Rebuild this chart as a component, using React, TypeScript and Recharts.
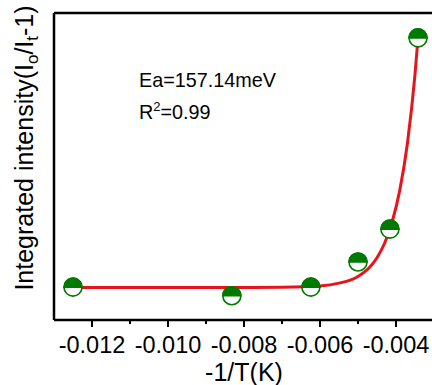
import { ComposedChart, Scatter, Line, XAxis, YAxis, ReferenceLine, Customized } from "recharts";

// measured points (-1/T, integrated intensity, arbitrary units)
const pointX = [-0.0125, -0.00832, -0.00624, -0.005, -0.00416, -0.00342];
const pointY = [10.7, 7.9, 10.7, 18.9, 29.6, 91.9];

// fitted curve
const fitX = [-0.0125, -0.01, -0.008, -0.007, -0.006, -0.0055, -0.005, -0.0047, -0.0045, -0.0043, -0.0041, -0.0039, -0.0037, -0.0035, -0.00342];
const fitY = [10.6, 10.6, 10.6, 10.7, 11.1, 12.0, 14.2, 17.1, 20.3, 25, 32, 42.3, 57.5, 80, 91.9];

const xTicks = [-0.012, -0.011, -0.01, -0.009, -0.008, -0.007, -0.006, -0.005, -0.004];

const points = pointX.map((x, i) => ({ x, y: pointY[i] }));
const fit = fitX.map((x, i) => ({ x, y: fitY[i] }));

const FONT = "Arial, 'Liberation Sans', sans-serif";
const GREEN = "#007a00";

const HalfDot = (props: any) => {
  const { cx, cy } = props;
  const r = 9;
  return (
    <g>
      <circle cx={cx} cy={cy} r={r} fill="#fff" stroke={GREEN} strokeWidth={1.6} />
      <path d={`M ${cx - r} ${cy} A ${r} ${r} 0 0 1 ${cx + r} ${cy} Z`} fill={GREEN} stroke={GREEN} strokeWidth={1.6} />
    </g>
  );
};

const XTick = (props: any) => {
  const { x, y, payload } = props;
  const major = Math.round(payload.value * 1000) % 2 === 0;
  return (
    <g>
      <line x1={x} x2={x} y1={y} y2={y + (major ? 7 : 4)} stroke="#000" strokeWidth={2} />
      {major && (
        <text x={x} y={y + 33} textAnchor="middle" fontSize={23.5} fontFamily={FONT} fill="#000">
          {payload.value.toFixed(3)}
        </text>
      )}
    </g>
  );
};

const Labels = () => (
  <g fontFamily={FONT} fill="#000">
    <text transform="translate(33,148) rotate(-90)" textAnchor="middle" fontSize={25}>
      Integrated intensity(I
      <tspan fontSize={17} dy={5}>o</tspan>
      <tspan dy={-5}>/I</tspan>
      <tspan fontSize={17} dy={5}>t</tspan>
      <tspan dy={-5}>-1)</tspan>
    </text>
    <text x={139} y={87} fontSize={19.8}>Ea=157.14meV</text>
    <text x={139} y={119} fontSize={19.8}>
      R<tspan fontSize={13} dy={-8}>2</tspan>
      <tspan dy={8}>=0.99</tspan>
    </text>
    <text x={244} y={381} textAnchor="middle" fontSize={25}>-1/T(K)</text>
  </g>
);

export default function App() {
  return (
    <div style={{ position: "absolute", left: 0, top: 0, width: 432, height: 385, overflow: "hidden", background: "#fff" }}>
      <ComposedChart width={440} height={385} margin={{ top: 13, right: 6, bottom: 0, left: 0 }}>
        <XAxis
          type="number"
          dataKey="x"
          domain={[-0.013, -0.003]}
          ticks={xTicks}
          tick={<XTick />}
          tickLine={false}
          tickSize={0}
          tickMargin={0}
          height={65}
          axisLine={{ stroke: "#000", strokeWidth: 2.5 }}
          allowDataOverflow
          interval={0}
        />
        <YAxis
          type="number"
          dataKey="y"
          domain={[0, 100]}
          width={54}
          tick={false}
          tickLine={false}
          axisLine={{ stroke: "#000", strokeWidth: 2.5 }}
          allowDataOverflow
        />
        <ReferenceLine y={100} stroke="#000" strokeWidth={2.5} />
        <ReferenceLine x={-0.003} stroke="#000" strokeWidth={2.5} />
        <Scatter data={points} shape={<HalfDot />} isAnimationActive={false} />
        <Line data={fit} dataKey="y" type="monotone" stroke="#e8141b" strokeWidth={3} dot={false} isAnimationActive={false} />
        <Customized component={<Labels />} />
      </ComposedChart>
    </div>
  );
}
